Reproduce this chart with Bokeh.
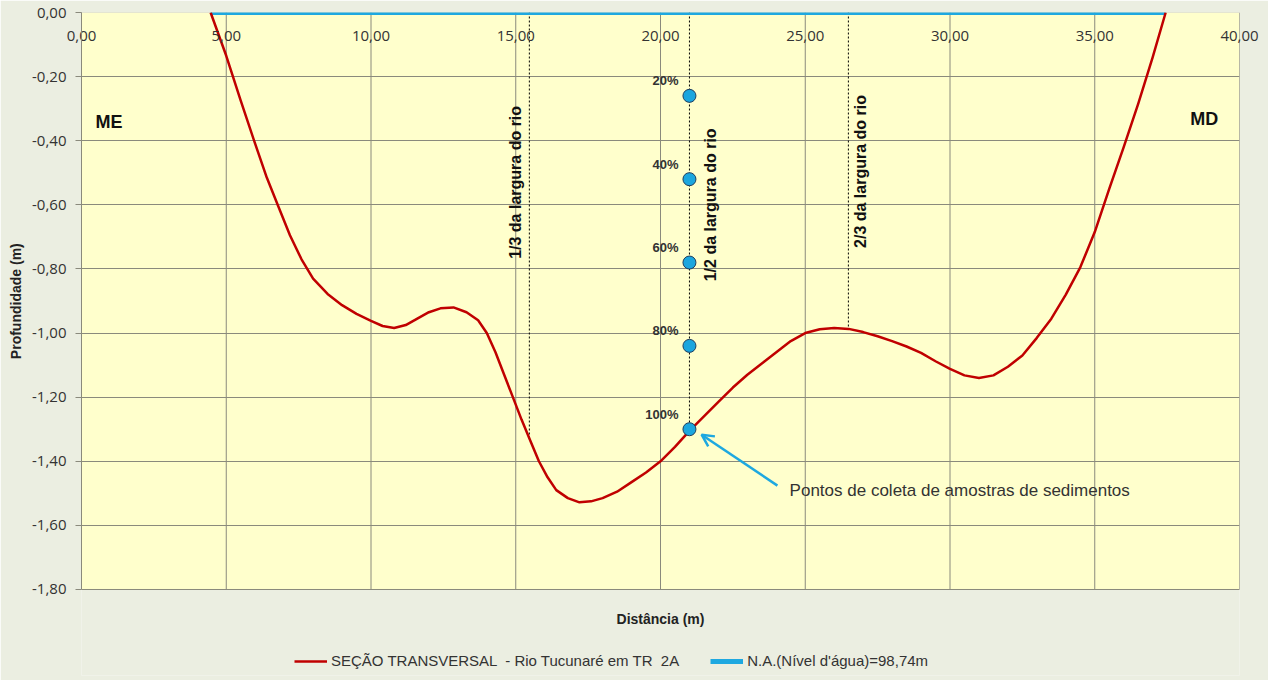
import math
from bokeh.plotting import figure
from bokeh.models import (Range1d, FixedTicker, LinearAxis, Legend, LegendItem,
                          Arrow, OpenHead, BoxAnnotation)
from bokeh.core.properties import value
from bokeh.embed import file_html
from bokeh.resources import INLINE

# ---------------- data ----------------
section_x = [4.46, 5.00, 5.50, 6.00, 6.40, 6.80, 7.20, 7.60, 8.00, 8.50, 9.00,
             9.50, 10.00, 10.40, 10.80, 11.20, 11.60, 12.00, 12.40, 12.85,
             13.30, 13.70, 14.00, 14.30, 14.60, 14.90, 15.20, 15.50, 15.80,
             16.10, 16.40, 16.80, 17.20, 17.60, 18.00, 18.50, 19.00, 19.50,
             20.00, 20.50, 21.00, 21.50, 22.00, 22.50, 23.00, 23.50, 24.00,
             24.50, 25.00, 25.50, 26.00, 26.50, 27.00, 27.50, 28.00, 28.50,
             29.00, 29.50, 30.00, 30.50, 31.00, 31.50, 32.00, 32.50, 33.00,
             33.50, 34.00, 34.50, 35.00, 35.50, 36.00, 36.50, 37.00, 37.45]
section_y = [0.00, -0.135, -0.275, -0.41, -0.515, -0.605, -0.695, -0.77, -0.83,
             -0.878, -0.913, -0.94, -0.962, -0.978, -0.984, -0.975, -0.955,
             -0.935, -0.923, -0.92, -0.935, -0.96, -1.00, -1.06, -1.13, -1.20,
             -1.27, -1.335, -1.40, -1.45, -1.49, -1.515, -1.528, -1.525,
             -1.515, -1.495, -1.465, -1.435, -1.40, -1.355, -1.305, -1.26,
             -1.215, -1.17, -1.13, -1.095, -1.06, -1.025, -1.00, -0.988,
             -0.984, -0.987, -0.997, -1.01, -1.025, -1.042, -1.062, -1.088,
             -1.112, -1.132, -1.14, -1.132, -1.105, -1.07, -1.015, -0.955,
             -0.88, -0.795, -0.685, -0.55, -0.42, -0.285, -0.14, 0.00]

water_x = [4.46, 37.45]
water_y = [0.0, 0.0]

x_ticks = [0, 5, 10, 15, 20, 25, 30, 35, 40]
x_tick_labels = ["0,00", "5,00", "10,00", "15,00", "20,00", "25,00", "30,00",
                 "35,00", "40,00"]
y_ticks = [0.0, -0.2, -0.4, -0.6, -0.8, -1.0, -1.2, -1.4, -1.6, -1.8]
y_tick_labels = ["0,00", "-0,20", "-0,40", "-0,60", "-0,80", "-1,00", "-1,20",
                 "-1,40", "-1,60", "-1,80"]

sample_x = [21.0, 21.0, 21.0, 21.0, 21.0]
sample_y = [-0.26, -0.52, -0.78, -1.04, -1.30]
sample_labels = ["20%", "40%", "60%", "80%", "100%"]

guide_x = [15.47, 21.0, 26.49]
guide_bottom = [-1.335, -1.30, -0.985]
guide_labels = ["1/3 da largura do rio", "1/2 da largura do rio",
                "2/3 da largura do rio"]
guide_label_x = [14.99, 21.73, 26.90]
guide_label_y = [-0.53, -0.60, -0.496]

bank_labels = ["ME", "MD"]
bank_x = [0.48, 38.30]
bank_y = [-0.343, -0.331]

note_text = ["Pontos de coleta de amostras de sedimentos"]
note_x = [24.46]
note_y = [-1.491]
arrow_start = (24.04, -1.476)
arrow_end = (21.42, -1.317)

x_title = ["Distância (m)"]
x_title_pos = (20.0, -1.8905)
y_title = "Profundidade (m)"

legend_labels = ["SEÇÃO TRANSVERSAL  - Rio Tucunaré em TR  2A",
                 "N.A.(Nível d'água)=98,74m"]

# ---------------- styles ----------------
RED = "#C00000"
BLUE = "#1EA8E0"
GRID = "#8A8A7C"
TXT = "#333333"
OUTER = "#EBEEE1"
BOLD_FONT = value("Liberation Sans")

# the frame reaches down to the legend row; the yellow plot area is drawn
# for the 0..40 x 0..-1.80 box only
p = figure(width=1268, height=680, x_range=Range1d(0, 40),
           y_range=Range1d(-2.0683, 0),
           output_backend="svg", toolbar_location=None, x_axis_location=None,
           min_border_left=81, min_border_right=29, min_border_top=12,
           min_border_bottom=5, background_fill_color=OUTER,
           border_fill_color=OUTER, outline_line_color=None)

p.add_layout(BoxAnnotation(left=x_ticks[0], right=x_ticks[-1], top=y_ticks[0],
                           bottom=y_ticks[-1], fill_color="#FFFFCC", fill_alpha=1,
                           line_color=GRID, line_width=1, level="image"))

# grids
p.xgrid.visible = False
p.ygrid.ticker = FixedTicker(ticks=y_ticks)
p.ygrid.grid_line_color = GRID
p.ygrid.grid_line_width = 1
p.segment(x0=x_ticks, y0=[y_ticks[0]] * len(x_ticks), x1=x_ticks,
          y1=[y_ticks[-1]] * len(x_ticks), line_color=GRID, line_width=1)

# y axis (leading no-break spaces centre the title on the 0..-1.80 span)
ya = p.yaxis[0]
ya.bounds = (y_ticks[-1], y_ticks[0])
ya.ticker = FixedTicker(ticks=y_ticks)
ya.major_label_overrides = dict(zip(y_ticks, y_tick_labels))
ya.axis_label = "\u00a0" * 22 + y_title
ya.axis_label_text_font = "Liberation Sans"
ya.axis_label_text_font_style = "bold"
ya.axis_label_text_font_size = "14px"
ya.axis_label_text_color = "#222222"
ya.axis_label_standoff = 5
ya.major_label_text_font = "Open Sans"
ya.major_label_text_font_size = "15px"
ya.major_label_text_color = TXT
ya.major_label_standoff = 9
ya.major_tick_out = 6
ya.major_tick_in = 0
ya.minor_tick_out = 0
ya.minor_tick_in = 0
ya.axis_line_color = GRID
ya.major_tick_line_color = GRID

# x tick labels: axis on top, labels pulled down inside the plot area
tick_axis = LinearAxis(ticker=FixedTicker(ticks=x_ticks),
                       major_label_overrides=dict(zip(x_ticks, x_tick_labels)),
                       axis_line_color=None,
                       major_tick_out=0, major_tick_in=0, minor_tick_out=0,
                       minor_tick_in=0, major_label_standoff=-28,
                       major_label_text_font="Open Sans",
                       major_label_text_font_size="15px",
                       major_label_text_color=TXT)
p.add_layout(tick_axis, "above")

# guide dashed lines
p.segment(x0=guide_x, y0=[0] * len(guide_x), x1=guide_x, y1=guide_bottom,
          line_color="black", line_width=1, line_dash="2 2")

# water level
r_water = p.line(water_x, water_y, line_color=BLUE, line_width=5)

# cross-section
r_curve = p.line(section_x, section_y, line_color=RED, line_width=2.5,
                 line_join="round")

# sample points
p.scatter(sample_x, sample_y, size=13, marker="circle", fill_color="#1BA6DE",
          line_color="#1F3F5F", line_width=1)
p.text(sample_x, sample_y, text=sample_labels, x_offset=-11, y_offset=-15,
       text_align="right", text_baseline="middle", text_font=BOLD_FONT,
       text_font_style="bold", text_font_size="13px", text_color=TXT)

# guide labels (rotated)
p.text(guide_label_x, guide_label_y, text=guide_labels, angle=math.pi / 2,
       text_align="center", text_baseline="middle", text_font=BOLD_FONT,
       text_font_style="bold", text_font_size="16px", text_color="#111111")

# bank labels
p.text(bank_x, bank_y, text=bank_labels, text_align="left", text_baseline="middle",
       text_font=BOLD_FONT, text_font_style="bold", text_font_size="18px",
       text_color="#111111")

# note + arrow
p.text(note_x, note_y, text=note_text, text_align="left", text_baseline="middle",
       text_font=BOLD_FONT, text_font_size="17px", text_color=TXT)
p.add_layout(Arrow(end=OpenHead(size=12, line_color=BLUE, line_width=2.5),
                   x_start=arrow_start[0], y_start=arrow_start[1],
                   x_end=arrow_end[0], y_end=arrow_end[1],
                   line_color=BLUE, line_width=2.5))

# x axis title
p.text([x_title_pos[0]], [x_title_pos[1]], text=x_title, text_align="center",
       text_baseline="middle", text_font=BOLD_FONT, text_font_style="bold",
       text_font_size="14px", text_color="#222222")

# legend
legend = Legend(items=[LegendItem(label=legend_labels[0], renderers=[r_curve]),
                       LegendItem(label=legend_labels[1], renderers=[r_water])],
                location=(213, 6), orientation="horizontal",
                glyph_width=33, glyph_height=16, label_height=16,
                label_standoff=4, spacing=31, padding=4, margin=0,
                border_line_color=None, background_fill_alpha=0,
                label_text_font="Liberation Sans", label_text_font_size="15px",
                label_text_color=TXT)
p.add_layout(legend, "center")

open("out.html", "w").write(file_html(p, INLINE))
